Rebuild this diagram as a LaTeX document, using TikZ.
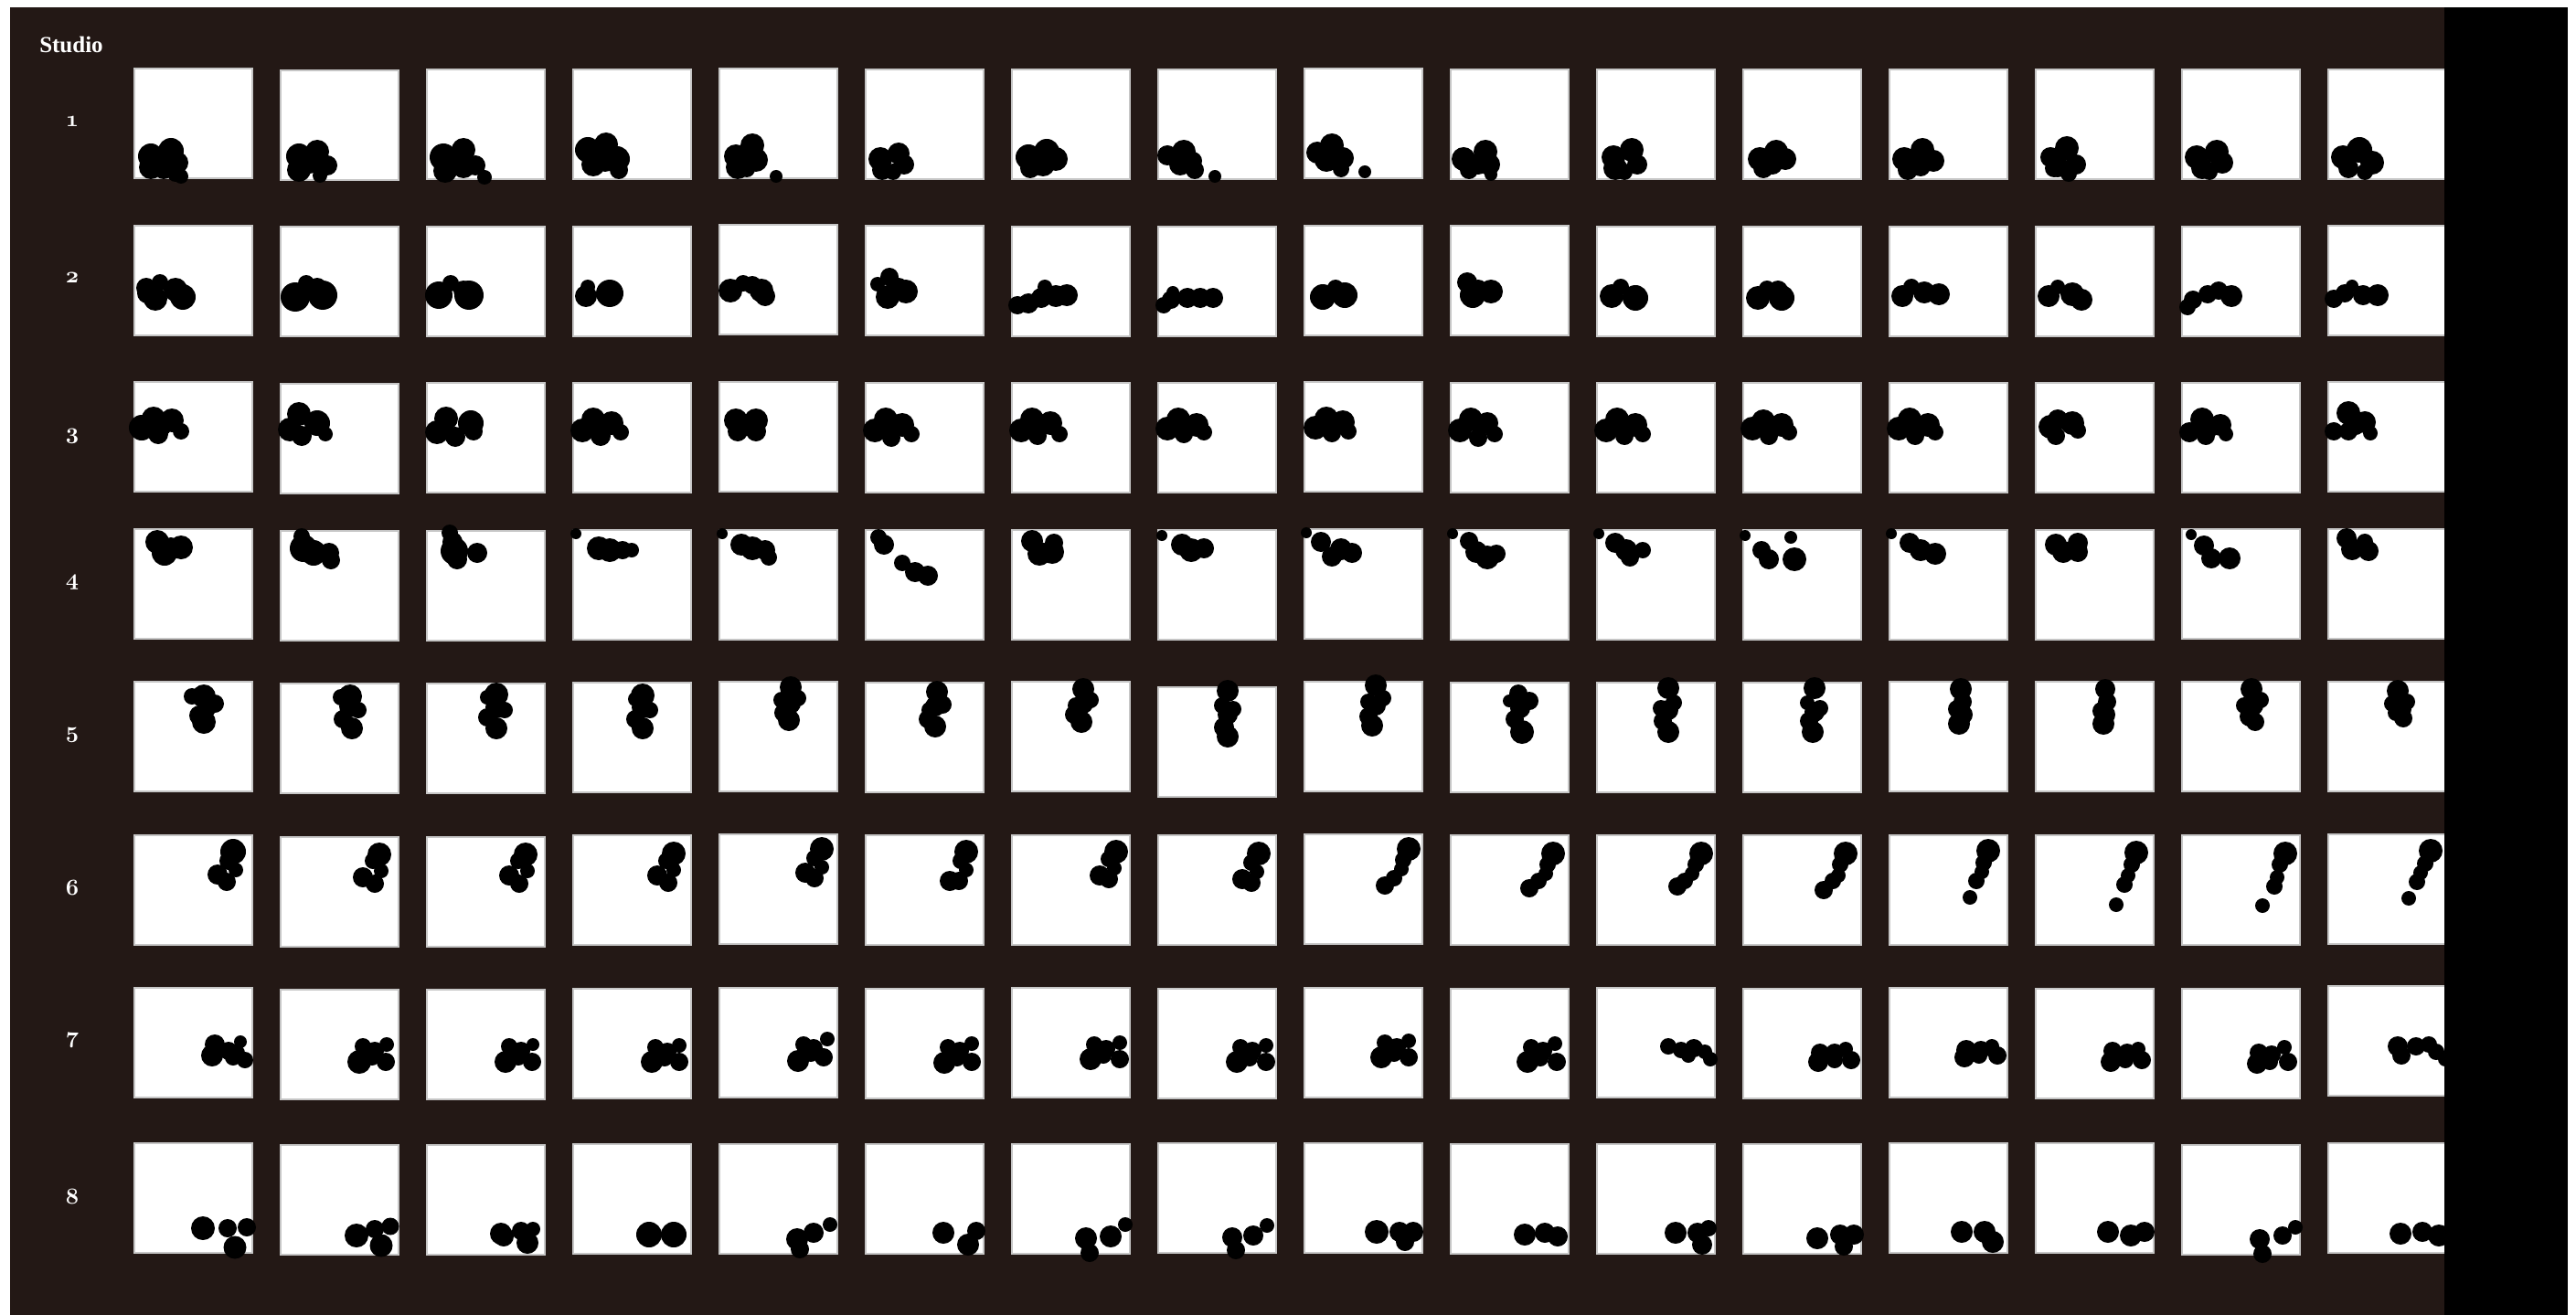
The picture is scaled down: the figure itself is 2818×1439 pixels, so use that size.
\documentclass[tikz,border=0pt]{standalone}
\usepackage{fontspec}
\newfontfamily\lserif{Liberation Serif}
\definecolor{bgbrown}{HTML}{231815}
\tikzset{
  sq/.style={fill=white, draw=gray!45, line width=1.2pt},
  blob/.style={fill=black},
  lbl/.style={text=white, font=\lserif\bfseries\fontsize{25}{30}\selectfont, inner sep=0pt},
  num/.style={text=white, font=\fontsize{25}{30}\usefont{OML}{cmm}{b}{it}, inner sep=0pt}
}
\newcommand\cellsq[4][0]{%
  \begin{scope}[shift={({147+160*(#2-1)},#3)}]
    \path[sq] (0,0) rectangle (129,120);
    \foreach \a/\b/\r in {#4} \fill[blob] (\a,\b) circle[radius={\r+#1}];
  \end{scope}}
\begin{document}
\begin{tikzpicture}[x=1pt,y=-1pt]
\useasboundingbox (0,0) rectangle (2818,1439);
\fill[white] (0,0) rectangle (2818,1439);
\fill[bgbrown] (11,8) rectangle (2674,1439);
% labels
\node[lbl] (studio) at (78,48.5) {Studio};
\node[num] (r1) at (79,133) {1};
\node[num] (r2) at (79,304) {2};
\node[num] (r3) at (79,477) {3};
\node[num] (r4) at (79,637) {4};
\node[num] (r5) at (79,804) {5};
\node[num] (r6) at (79,971) {6};
\node[num] (r7) at (79,1138) {7};
\node[num] (r8) at (79,1309) {8};
% row 1
\cellsq[1]{1}{75}{18/96/13,40/90/13,18/108/12,47/103/11,32/110/10,45/115/8,51/118/7}
\cellsq[1]{2}{77}{20/94/13,40/89/12,20/109/12,51/104/10,43/115/7,32/100/12}
\cellsq[1]{3}{76}{18/96/14,40/88/12,20/111/12,53/105/10,63/118/7,40/106/12}
\cellsq[1]{4}{76}{16/88/13,36/82/12,22/104/12,48/98/13,50/110/9,35/100/11}
\cellsq[1]{5}{75}{18/96/12,36/84/12,20/108/12,40/100/12,30/110/8,62/118/6}
\cellsq[1]{6}{76}{16/98/12,36/92/11,18/110/10,42/104/10,30/112/8}
\cellsq[1]{7}{76}{18/96/13,38/90/13,20/108/10,48/98/12,34/104/12}
\cellsq[1]{8}{76}{10/94/10,28/90/12,24/104/11,40/110/9,62/117/6,38/100/9}
\cellsq[1]{9}{75}{14/92/11,30/84/12,24/100/12,42/98/11,40/110/8,66/113/6}
\cellsq[1]{10}{76}{14/98/12,38/90/12,20/110/9,42/104/11,30/104/10,44/115/6}
\cellsq[1]{11}{76}{18/96/12,38/88/12,20/108/12,44/104/10,30/112/8}
\cellsq[1]{12}{76}{18/98/12,36/90/12,22/108/10,46/98/11,32/104/10}
\cellsq[1]{13}{76}{16/98/12,36/88/12,20/110/10,48/100/11,34/106/10}
\cellsq[1]{14}{76}{16/96/10,34/86/12,24/106/11,44/104/10,36/114/8,20/108/9}
\cellsq[1]{15}{76}{16/96/12,38/90/12,22/108/11,44/102/11,30/112/8}
\cellsq[1]{16}{76}{16/96/12,34/88/13,22/108/10,48/102/12,40/112/8}
% row 2
\cellsq[1]{1}{247}{13/68/10,28/62/8,23/80/12,45/70/12,53/78/13,14/74/10}
\cellsq[1]{2}{248}{16/77/15,28/62/8,46/75/15,40/67/10}
\cellsq[1]{3}{248}{13/75/14,26/62/8,46/75/15,40/70/10}
\cellsq[1]{4}{248}{14/76/11,16/66/7,40/73/14}
\cellsq[1]{5}{246}{12/72/12,26/64/8,36/66/9,46/72/12,50/78/10}
\cellsq[1]{6}{247}{13/64/7,26/56/9,24/78/12,44/72/12,36/68/10}
\cellsq[1]{7}{248}{6/86/9,18/84/10,32/78/10,36/66/7,48/76/11,60/75/11}
\cellsq[1]{8}{248}{6/86/8,14/80/9,16/72/6,32/78/10,46/78/10,60/78/10}
\cellsq[1]{9}{247}{20/78/13,34/68/8,44/76/13}
\cellsq[1]{10}{247}{18/62/10,24/76/13,44/72/12,30/70/10}
\cellsq[1]{11}{248}{16/76/12,26/66/8,42/78/13}
\cellsq[1]{12}{248}{16/78/12,26/68/8,42/78/13,38/70/10}
\cellsq[1]{13}{248}{14/76/11,24/66/8,38/72/11,54/74/11}
\cellsq[1]{14}{248}{14/76/11,24/66/7,40/74/12,50/80/11}
\cellsq[1]{15}{248}{6/88/8,12/80/9,28/74/9,40/70/9,54/76/11}
\cellsq[1]{16}{247}{6/80/9,18/74/9,26/66/6,38/76/10,54/76/11}
% row 3
\cellsq[1]{1}{418}{8/50/13,21/40/12,26/57/10,41/42/12,51/54/8,30/48/10}
\cellsq[1]{2}{420}{10/50/12,20/33/12,23/57/10,40/43/13,49/55/7}
\cellsq[1]{3}{419}{11/54/12,21/39/12,31/59/10,48/44/13,51/53/9}
\cellsq[1]{4}{419}{10/52/12,22/40/12,30/58/10,42/44/12,52/54/8,28/48/10}
\cellsq[1]{5}{418}{18/42/12,20/54/10,40/42/12,40/54/10,30/50/8}
\cellsq[1]{6}{419}{10/52/12,22/40/12,28/60/9,40/46/12,50/56/8}
\cellsq[1]{7}{419}{10/52/12,22/40/12,28/58/9,42/44/12,52/56/8}
\cellsq[1]{8}{419}{10/50/12,22/40/12,28/56/9,42/46/12,50/54/8}
\cellsq[1]{9}{418}{12/50/12,24/40/12,30/56/9,42/44/12,48/54/8}
\cellsq[1]{10}{419}{10/52/12,22/40/12,30/60/9,40/44/11,48/56/8}
\cellsq[1]{11}{419}{10/52/12,22/40/12,30/58/9,42/46/12,50/56/8}
\cellsq[1]{12}{419}{10/50/12,22/42/12,28/58/9,42/46/12,50/54/8}
\cellsq[1]{13}{419}{10/50/12,22/40/12,28/58/9,42/46/12,50/54/8}
\cellsq[1]{14}{419}{16/48/12,24/40/10,22/58/9,40/44/12,46/52/8}
\cellsq[1]{15}{419}{8/54/10,22/40/12,26/58/9,42/46/11,48/56/7,30/50/9}
\cellsq[1]{16}{418}{6/54/9,22/34/12,22/54/9,40/44/11,46/56/7,30/48/9}
% row 4
\cellsq[1]{1}{579}{25/14/12,33/26/13,51/20/12,40/20/10}
\cellsq[1]{2}{581}{23/6/8,25/19/14,36/24/13,53/24/10,55/32/9}
\cellsq[1]{3}{581}{25/2/8,30/22/14,33/31/10,55/24/10,28/12/10}
\cellsq[1]{4}{580}{3/4/5,28/20/12,40/22/12,54/22/9,64/22/7}
\cellsq[1]{5}{580}{3/4/5,24/16/11,36/20/12,50/22/10,54/30/8}
\cellsq[1]{6}{580}{14/8/8,20/16/10,40/36/8,54/46/10,68/50/10}
\cellsq[1]{7}{580}{22/12/11,30/26/12,44/24/12,46/14/9}
\cellsq[1]{8}{580}{4/6/5,26/16/11,36/22/12,50/20/10}
\cellsq[1]{9}{579}{2/4/5,18/14/10,30/30/10,40/22/11,52/26/10}
\cellsq[1]{10}{580}{2/4/5,20/12/9,28/24/11,40/30/12,50/26/9}
\cellsq[1]{11}{580}{2/4/5,20/14/10,32/22/11,36/30/9,50/22/8}
\cellsq[1]{12}{580}{2/6/5,52/8/6,20/22/9,28/32/10,56/32/12}
\cellsq[1]{13}{580}{2/4/5,22/14/10,34/22/11,50/26/11}
\cellsq[1]{14}{580}{22/16/11,30/24/11,46/14/10,46/24/10}
\cellsq[1]{15}{579}{10/6/5,24/18/10,32/32/10,52/32/11}
\cellsq[1]{16}{579}{20/10/10,26/22/11,40/14/8,44/24/10}
% row 5
\cellsq{1}{746}{63/16/9,76/16/13,88/24/10,71/37/11,76/44/13,80/30/9}
\cellsq{2}{748}{76/14/13,66/15/9,85/29/9,76/25/12,68/39/10,78/49/12}
\cellsq{3}{748}{76/12/13,66/15/8,85/29/9,76/26/12,66/37/10,76/49/12}
\cellsq{4}{747}{76/14/13,68/18/8,84/30/9,76/27/12,68/40/10,76/50/12}
\cellsq{5}{746}{78/6/12,86/18/9,68/20/9,78/24/11,70/34/10,76/42/12}
\cellsq{6}{747}{78/10/12,84/24/10,70/30/9,76/26/11,68/40/10,76/48/12}
\cellsq{7}{746}{78/8/12,86/20/9,70/26/9,78/24/11,68/36/10,76/44/12}
\cellsq{8}{752}{76/4/12,70/20/9,82/24/9,76/30/11,72/44/11,76/54/12}
\cellsq{9}{746}{78/4/12,86/18/9,70/22/9,78/26/11,70/38/10,74/48/12}
\cellsq{10}{747}{74/12/10,86/20/10,64/20/7,76/28/11,70/40/10,78/54/13}
\cellsq{11}{747}{78/6/12,84/22/9,70/28/9,78/30/11,72/42/10,78/54/12}
\cellsq{12}{747}{78/6/12,70/22/8,84/28/9,78/32/11,72/42/10,76/54/12}
\cellsq{13}{746}{78/8/12,80/22/10,74/30/10,80/36/11,76/46/12}
\cellsq{14}{746}{76/8/11,78/22/10,72/32/10,76/36/11,74/46/12}
\cellsq{15}{746}{76/8/12,86/20/9,68/26/9,78/26/11,74/38/11,80/44/10}
\cellsq{16}{746}{76/10/12,86/22/9,70/24/9,80/30/11,82/40/10,74/34/9}
% row 6
\cellsq{1}{914}{108/18/14,103/28/10,111/38/8,91/43/11,101/51/10}
\cellsq{2}{916}{108/19/13,101/26/9,110/37/8,90/44/11,103/51/10}
\cellsq{3}{916}{108/19/13,100/26/9,110/37/8,90/42/11,101/51/10}
\cellsq{4}{914}{110/20/13,102/28/9,110/38/8,92/44/11,104/52/10}
\cellsq{5}{913}{112/16/13,104/26/9,112/36/8,94/42/11,104/48/10}
\cellsq{6}{914}{110/18/13,104/28/9,110/38/8,92/50/11,102/50/10}
\cellsq{7}{914}{114/18/13,106/26/9,112/36/8,96/44/11,106/48/10}
\cellsq{8}{914}{110/20/13,102/30/9,108/40/8,92/48/11,102/52/10}
\cellsq{9}{913}{114/16/13,108/28/9,106/38/8,98/48/9,88/56/10}
\cellsq{10}{914}{112/20/13,106/32/9,104/42/8,96/50/9,86/58/10}
\cellsq{11}{914}{114/20/13,108/32/9,104/42/8,96/50/9,88/56/10}
\cellsq{12}{914}{112/20/13,106/32/9,104/44/8,98/50/9,88/60/10}
\cellsq{13}{914}{108/17/13,103/30/9,101/40/8,95/50/9,88/68/8}
\cellsq{14}{914}{110/19/13,105/32/9,101/44/8,97/54/9,88/76/8}
\cellsq{15}{914}{113/20/13,107/32/9,104/46/8,101/56/9,88/77/8}
\cellsq{16}{913}{112/18/13,106/32/9,101/42/8,97/52/9,88/70/8}
% row 7
\cellsq{1}{1081}{88/62/11,85/74/12,103/69/10,116/59/7,108/76/9,121/79/9,113/71/8}
\cellsq{2}{1083}{90/62/9,86/79/13,103/67/10,116/60/8,115/79/10,100/74/9}
\cellsq{3}{1083}{90/62/9,86/79/12,103/67/10,116/60/7,115/79/10,100/74/9}
\cellsq{4}{1082}{90/64/9,86/80/12,103/69/10,116/62/8,116/80/10,100/76/9}
\cellsq{5}{1081}{92/62/9,86/80/12,103/66/10,118/56/8,114/76/10,100/72/9}
\cellsq{6}{1082}{90/64/9,86/81/12,103/68/10,116/60/8,116/80/10,100/76/9}
\cellsq{7}{1081}{90/62/9,86/78/12,103/67/10,118/60/8,118/78/10,100/74/9}
\cellsq{8}{1082}{90/64/9,86/80/12,103/68/10,118/62/8,118/80/10,100/76/9}
\cellsq{9}{1081}{88/60/9,84/76/12,101/65/10,114/58/8,114/76/10,98/72/9}
\cellsq{10}{1082}{88/64/9,84/80/12,101/68/10,114/60/8,116/80/10,98/76/9}
\cellsq{11}{1081}{78/64/9,92/68/9,106/66/10,118/70/8,124/78/8,100/74/8}
\cellsq{12}{1082}{84/70/10,82/80/11,100/70/10,112/66/8,118/78/10,100/78/9}
\cellsq{13}{1081}{84/68/11,82/76/11,100/68/10,112/64/8,118/74/10,98/74/9}
\cellsq{14}{1082}{84/68/10,82/80/11,100/70/10,112/66/8,116/78/10,98/78/9}
\cellsq{15}{1082}{84/70/10,82/82/11,98/72/10,112/64/8,116/80/10,96/80/9}
\cellsq{16}{1079}{76/66/11,80/76/10,96/66/10,110/64/9,118/72/9,128/80/8}
% row 8
\cellsq{1}{1251}{75/93/13,102/93/10,123/92/10,110/114/12.5}
\cellsq{2}{1253}{83/99/13,103/92/10,120/89/9.5,110/110/12.5}
\cellsq{3}{1253}{81/97/12,84/100/11,103/94/10,116/92/8,110/107/12}
\cellsq{4}{1252}{83/99/14,110/99/14}
\cellsq{5}{1252}{85/104/12,103/97/11,121/88/8,88/115/10}
\cellsq{6}{1252}{85/97/12,112/110/12,121/95/10}
\cellsq{7}{1252}{81/103/12,108/101/12,124/88/8,85/119/10}
\cellsq{8}{1251}{81/103/11,104/101/11,119/90/8,85/117/10}
\cellsq{9}{1251}{79/97/13,104/97/11,119/97/11,110/108/10}
\cellsq{10}{1252}{81/99/12,103/97/11,117/101/11}
\cellsq{11}{1252}{86/97/12,110/97/11,122/92/9,115/110/11}
\cellsq{12}{1252}{81/103/12,106/99/11,121/99/11,110/112/10}
\cellsq{13}{1251}{79/97/12,104/97/12,113/108/12}
\cellsq{14}{1251}{79/97/12,104/101/12,119/97/11}
\cellsq{15}{1253}{85/103/11,110/99/10,124/90/8,88/119/10}
\cellsq{16}{1251}{79/99/12,103/97/11,121/101/12}
% right black band
\fill[black] (2674,8) rectangle (2809,1439);
\end{tikzpicture}
\end{document}
